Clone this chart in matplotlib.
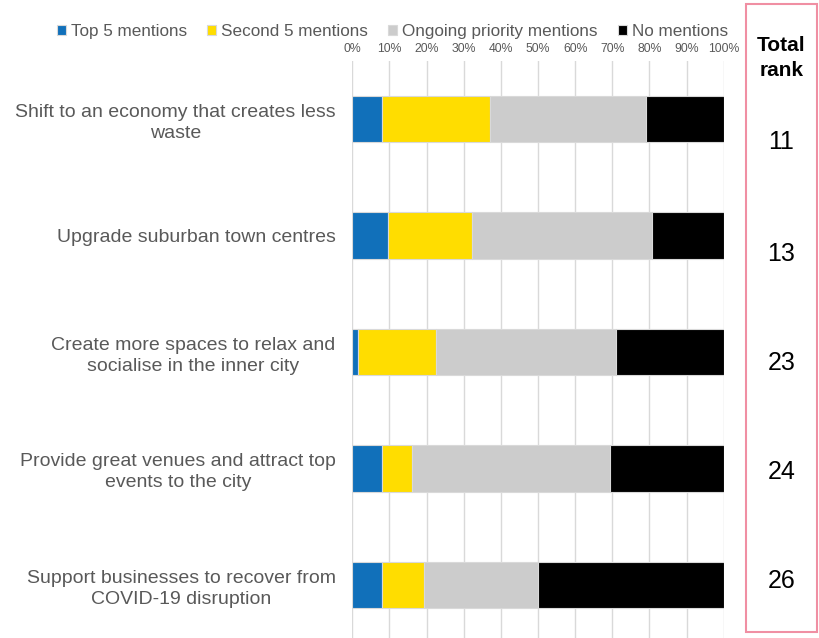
import numpy as np
import matplotlib
matplotlib.use("Agg")
import matplotlib.pyplot as plt
from matplotlib.patches import Rectangle

plt.rcParams['font.family'] = ['Liberation Sans', 'DejaVu Sans']

categories = [
    "Shift to an economy that creates less\nwaste",
    "Upgrade suburban town centres",
    "Create more spaces to relax and\nsocialise in the inner city",
    "Provide great venues and attract top\nevents to the city",
    "Support businesses to recover from\nCOVID-19 disruption",
]
series_names = ["Top 5 mentions", "Second 5 mentions", "Ongoing priority mentions", "No mentions"]
top5 = [8.1, 9.6, 1.5, 8.1, 8.1]
second5 = [29.0, 22.6, 21.0, 8.0, 11.3]
ongoing = [41.9, 48.4, 48.4, 53.2, 30.6]
no_mentions = [21.0, 19.4, 29.1, 30.7, 50.0]
total_rank = [11, 13, 23, 24, 26]
tick_values = list(range(0, 101, 10))
tick_labels = [f"{v}%" for v in tick_values]

colors = ["#1170BA", "#FFDD00", "#CCCCCC", "#000000"]
text_grey = "#595959"

W, H = 819, 638
fig = plt.figure(figsize=(W / 100, H / 100), dpi=100)

ax_left, ax_right = 352.3, 723.7
ax_top, ax_bot = 61, 643
ax = fig.add_axes([ax_left / W, 1 - ax_bot / H, (ax_right - ax_left) / W, (ax_bot - ax_top) / H])

y = np.arange(len(categories))
left = np.zeros(len(categories))
handles = []
for name, vals, c in zip(series_names, [top5, second5, ongoing, no_mentions], colors):
    b = ax.barh(y, vals, left=left, height=0.4, color=c, edgecolor="#d9d9d9",
                linewidth=0.8, label=name, zorder=3)
    handles.append(b)
    left = left + np.array(vals)

ax.set_xlim(0, 100)
ax.set_ylim(len(categories) - 0.5, -0.5)
ax.set_xticks(tick_values)
ax.set_xticklabels(tick_labels, fontsize=8.8, color=text_grey)
ax.xaxis.tick_top()
ax.tick_params(axis='x', length=0, pad=4)
ax.set_yticks(y)
ax.set_yticklabels(categories, fontsize=14, color=text_grey,
                   multialignment='center', linespacing=1.3)
ax.tick_params(axis='y', length=0, pad=12)
ax.grid(axis='x', color="#d9d9d9", linewidth=1, zorder=0)
for s in ax.spines.values():
    s.set_visible(False)

leg = fig.legend(handles=handles, labels=series_names, loc='center left',
                 bbox_to_anchor=(57 / W, 1 - 31.5 / H), ncol=4, frameon=False,
                 fontsize=12.3, handlelength=0.5, handleheight=0.5, handletextpad=0.3,
                 columnspacing=1.2, borderaxespad=0, borderpad=0)
for t in leg.get_texts():
    t.set_color(text_grey)

# rank column
fig.patches.append(Rectangle((746 / W, 1 - 632 / H), 71 / W, 628 / H,
                             transform=fig.transFigure, fill=False,
                             edgecolor="#F08FA3", linewidth=1.5))
cx = 781.5 / W
fig.text(cx, 1 - 45.5 / H, "Total", ha='center', va='center', fontsize=15,
         fontweight='bold', color='black')
fig.text(cx, 1 - 70 / H, "rank", ha='center', va='center', fontsize=15,
         fontweight='bold', color='black')
rank_y = [142, 254, 363, 472, 581]
for r, py in zip(total_rank, rank_y):
    fig.text(cx, 1 - py / H, str(r), ha='center', va='center', fontsize=18, color='black')

fig.savefig("out.png", dpi=100)
